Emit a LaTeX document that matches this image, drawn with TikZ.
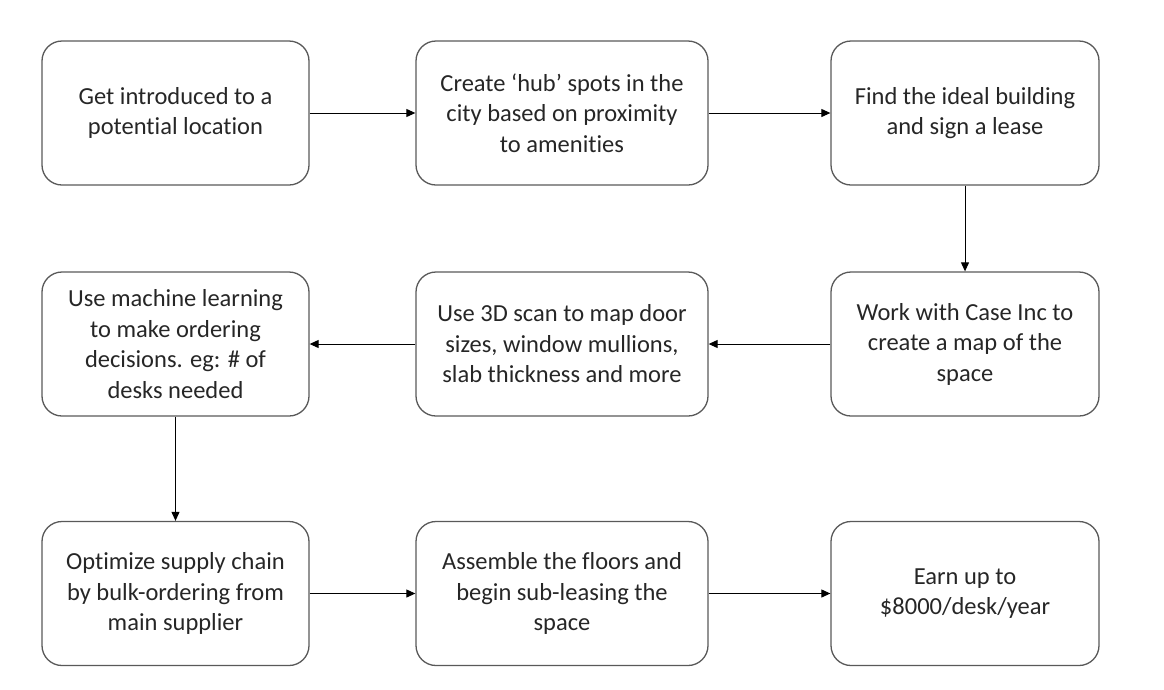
\documentclass[tikz,border=0pt]{standalone}
\usepackage{fontspec}
\setmainfont[Ligatures=NoCommon]{Carlito}
\usepackage{xcolor}
\usetikzlibrary{arrows.meta}
\definecolor{boxline}{HTML}{595959}
\definecolor{boxtext}{HTML}{262626}

\begin{document}
\begin{tikzpicture}[x=1pt, y=-1pt,
    stepbox/.style={draw=boxline, line width=1.3pt, rounded corners=20pt,
        minimum width=#1, minimum height=144pt, inner sep=0pt,
        align=center, text=boxtext, font=\fontsize{24.5}{30.5}\selectfont},
    stepbox/.default=267pt,
    flow/.style={draw=black, line width=1pt, -{Triangle[length=9pt, width=8pt]}}]
    \useasboundingbox (0,0) rectangle (1164,689);
    % Erste Reihe
    \node[stepbox] (intro) at (175.5,113) {Get introduced to a\\potential location};
    \node[stepbox=292pt] (hub) at (562,113) {Create ‘hub’ spots in the\\city based on proximity\\to amenities};
    \node[stepbox=268pt] (lease) at (965,113) {Find the ideal building\\and sign a lease};
    % Zweite Reihe
    \node[stepbox=268pt] (map) at (965,344) {Work with Case Inc to\\create a map of the\\space};
    \node[stepbox=292pt] (scan) at (562,344) {Use 3D scan to map door\\sizes, window mullions,\\slab thickness and more};
    \node[stepbox] (learn) at (175.5,344) {Use machine learning\\to make ordering\\decisions. eg: \# of\\desks needed};
    % Dritte Reihe
    \node[stepbox] (supply) at (175.5,593.5) {Optimize supply chain\\by bulk-ordering from\\main supplier};
    \node[stepbox=292pt] (floors) at (562,593.5) {Assemble the floors and\\begin sub-leasing the\\space};
    \node[stepbox=268pt] (earn) at (965,593.5) {Earn up to\\\$8000/desk/year};
    % Pfeile
    \draw[flow] (intro) -- (hub);
    \draw[flow] (hub) -- (lease);
    \draw[flow] (lease) -- (map);
    \draw[flow] (map) -- (scan);
    \draw[flow] (scan) -- (learn);
    \draw[flow] (learn) -- (supply);
    \draw[flow] (supply) -- (floors);
    \draw[flow] (floors) -- (earn);
\end{tikzpicture}
\end{document}
